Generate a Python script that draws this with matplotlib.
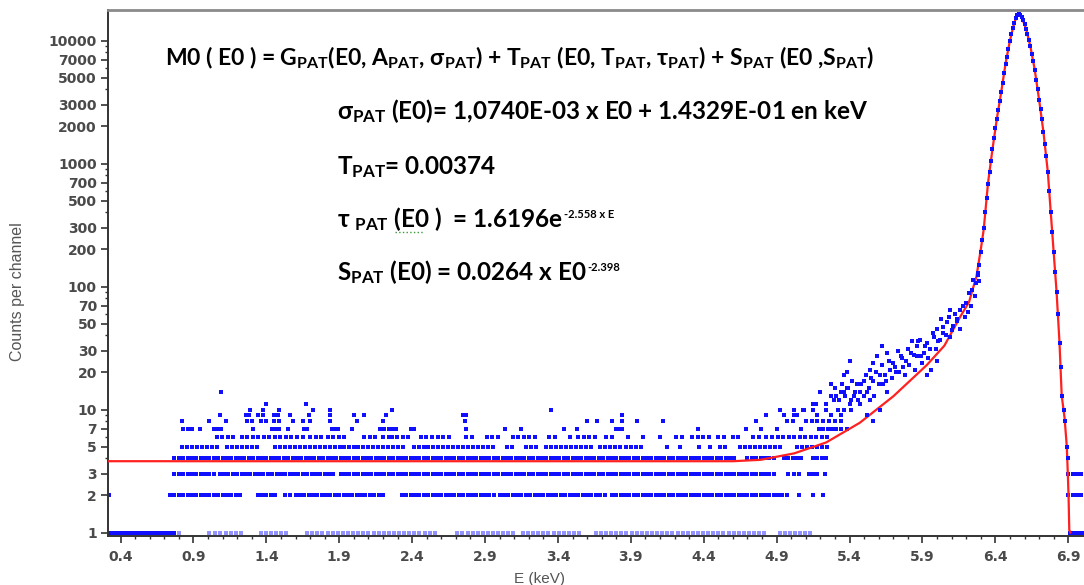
import numpy as np
import matplotlib
matplotlib.use("Agg")
import matplotlib.pyplot as plt
from matplotlib.lines import Line2D

# ---- data (energy in keV, counts per channel) ----
# background channels drawn as rows: energy segments where channels sit on each count level
level1_dense = [(0.32, 0.76), (6.91, 7.00)]
level1_sparse = [(0.80, 0.80), (1.01, 1.01), (1.05, 1.24), (1.36, 1.54), (1.68, 2.55),
                 (2.71, 3.09), (3.16, 3.55), (3.66, 4.83), (4.92, 5.13)]
level2 = [(0.32, 0.32), (0.74, 1.23), (1.34, 1.46), (1.53, 1.56), (1.60, 2.20), (2.33, 2.95),
          (3.00, 3.73), (3.77, 4.98), (5.05, 5.05), (5.15, 5.15), (5.22, 5.22), (6.90, 7.00)]
level3 = [(0.77, 1.04), (1.08, 1.49), (1.53, 1.87), (1.91, 2.20), (2.24, 4.88), (4.98, 4.98),
          (5.02, 5.05), (5.12, 5.18), (5.23, 5.23), (6.90, 7.00)]
level4 = [(0.77, 4.22), (4.25, 4.60), (4.70, 4.88), (4.95, 5.08), (5.15, 5.24)]
level5 = [(0.82, 0.93), (0.96, 1.05), (1.13, 1.35), (1.46, 1.90), (1.93, 2.10), (2.13, 2.35),
          (2.41, 2.55), (2.58, 2.96), (3.05, 3.09), (3.18, 3.25), (3.32, 3.62), (3.69, 3.83),
          (3.87, 3.96), (4.15, 4.15), (4.24, 4.24), (4.37, 4.37), (4.44, 4.44), (4.51, 4.56),
          (4.65, 4.92), (5.04, 5.24)]
level6 = [(1.06, 1.17), (1.23, 1.63), (1.70, 1.77), (1.82, 1.95), (2.07, 2.16), (2.20, 2.22),
          (2.26, 2.39), (2.46, 2.66), (2.77, 2.77), (2.81, 2.81), (2.91, 3.00), (3.09, 3.23),
          (3.34, 3.37), (3.48, 3.48), (3.54, 3.64), (3.73, 3.78), (3.88, 3.88), (3.98, 3.98),
          (4.10, 4.10), (4.21, 4.26), (4.32, 4.44), (4.50, 4.52), (4.60, 4.65), (4.74, 4.78),
          (4.83, 5.26)]

# isolated channels at higher count levels
level7_e = [0.83, 0.86, 0.89, 0.945, 1.04, 1.06, 1.09, 1.31, 1.44, 1.46, 1.49, 1.55, 1.66, 1.68,
            1.85, 1.87, 1.89, 1.99, 2.18, 2.21, 2.24, 2.27, 2.29, 2.39, 2.41, 2.77, 3.04, 3.15,
            3.44, 3.53, 3.80, 3.82, 3.84, 4.36, 4.69, 4.79, 4.90, 5.07, 5.19, 5.22, 5.25, 5.28,
            5.31, 5.34, 5.38]
level8_e = [0.82, 1.01, 1.12, 1.27, 1.30, 1.36, 1.40, 1.45, 1.49, 1.58, 1.65, 1.70, 1.84, 2.02,
            2.20, 2.76, 3.60, 3.67, 3.77, 3.84, 3.94, 4.12, 4.76, 4.97, 5.01, 5.10, 5.14, 5.18,
            5.22, 5.26, 5.30, 5.34]
level9_e = [1.08, 1.26, 1.28, 1.34, 1.38, 1.45, 1.48, 1.56, 1.69, 1.84, 2.00, 2.07, 2.22, 2.75,
            2.77, 3.84, 4.95, 5.04, 5.18, 5.27, 5.34]
level10_e = [1.29, 1.38, 1.49, 1.72, 1.84, 2.26, 3.35, 4.92, 5.02, 5.09, 5.15, 5.24, 5.32, 5.36, 5.41]
level11_e = [1.40, 1.67, 5.17]
level14_e = [1.09]

# low-energy tail cloud below the peak
tail_e = [6.25, 6.27, 6.24, 6.26, 6.20, 6.23, 6.16, 6.19, 6.09, 6.14, 6.11, 6.16, 6.07, 6.03,
          6.04, 6.09, 6.00, 5.98, 6.02, 5.93, 5.95, 5.88, 5.86, 5.83, 5.91, 6.00, 5.96, 5.93,
          5.90, 5.86, 5.82, 5.79, 5.77, 5.75, 5.70, 5.68, 5.72, 5.66, 5.62, 5.59, 5.56, 5.54,
          5.61, 5.63, 5.66, 5.56, 5.50, 5.45, 5.47, 5.52, 5.54, 5.43, 5.38, 5.36, 5.34, 5.31,
          5.29, 5.40, 5.47, 5.52, 5.56, 5.61, 5.27, 5.20, 5.40, 5.38, 5.36, 5.24, 5.15, 5.08,
          5.02, 4.92, 4.83,
          5.27, 5.30, 5.33, 5.35, 5.37, 5.39, 5.41, 5.42, 5.44, 5.46, 5.48, 5.50, 5.51, 5.53,
          5.55, 5.57, 5.58, 5.60, 5.62, 5.64, 5.65, 5.67, 5.69, 5.71, 5.73, 5.74, 5.76, 5.78,
          5.80, 5.81, 5.84, 5.85, 5.87, 5.89, 5.92, 5.94, 5.97, 5.99, 6.01, 6.04, 6.06, 6.08,
          6.10, 6.12, 6.14, 6.18, 6.21, 6.22, 6.28, 6.29]
tail_counts = [114, 107, 94, 83, 74, 69, 65, 57, 65, 54, 48, 45, 51, 54,
               42, 39, 45, 39, 37, 35, 31, 37, 33, 36, 29, 25, 21, 19,
               24, 27, 29, 25, 22, 27, 24, 21, 20, 29, 33, 27, 24, 21,
               19, 16, 14, 17, 17, 16, 14, 14, 12, 13, 15, 14, 14, 13,
               12, 11, 11, 9, 8, 10, 16, 14, 25, 20, 19, 11, 11, 10,
               9, 10, 9,
               13, 15, 12, 16, 13, 15, 12, 17, 14, 12, 16, 13, 19, 15,
               18, 13, 20, 16, 23, 19, 17, 25, 18, 22, 30, 20, 26, 19,
               31, 23, 28, 21, 36, 27, 33, 26, 42, 31, 36, 47, 40, 56,
               44, 60, 52, 70, 62, 88, 128, 110]

# photopeak channels
peak_e = [6.28, 6.29, 6.30, 6.31, 6.32, 6.33, 6.34, 6.35, 6.36, 6.37, 6.38, 6.39, 6.40, 6.41,
          6.42, 6.43, 6.44, 6.45, 6.46, 6.47, 6.48, 6.49, 6.50, 6.51, 6.52, 6.53, 6.54, 6.55,
          6.56, 6.57, 6.58, 6.59, 6.60, 6.61, 6.62, 6.63, 6.64, 6.65, 6.66, 6.67, 6.68, 6.69,
          6.70, 6.71, 6.72, 6.73, 6.74, 6.75, 6.76, 6.77, 6.78, 6.79, 6.80, 6.81, 6.82, 6.83,
          6.84, 6.85, 6.86, 6.87, 6.88, 6.89, 6.895]
peak_counts = [125, 150, 190, 240, 300, 400, 520, 680, 850, 1050, 1300, 1600, 1950, 2300,
               2700, 3200, 3800, 4500, 5400, 6400, 7400, 8600, 10000, 11300, 12600, 14000, 15200, 16200,
               16400, 16000, 15400, 14600, 13500, 12500, 11300, 10100, 9000, 7800, 6800, 5800, 4800, 4000,
               3300, 2800, 2300, 1800, 1450, 1150, 850, 600, 400, 280, 190, 130, 90, 60,
               35, 22, 13, 10, 8, 5, 4]

# fitted model M0(E0)
fit_e = [0.30, 4.60, 4.79, 5.02, 5.24, 5.47, 5.70, 5.93, 6.05, 6.16, 6.22, 6.25, 6.27, 6.30,
         6.32, 6.35, 6.38, 6.41, 6.44, 6.47, 6.50, 6.53, 6.556, 6.58, 6.61, 6.64, 6.67, 6.70,
         6.73, 6.76, 6.78, 6.80, 6.82, 6.84, 6.855, 6.875, 6.89, 6.897, 6.902, 6.907, 6.915]
fit_counts = [3.8, 3.8, 3.9, 4.4, 5.4, 7.8, 12.8, 23, 33, 57, 75, 100, 120, 200,
              290, 700, 1300, 2300, 3800, 6500, 10000, 14000, 16500, 15500, 12500, 9000, 5800, 3300,
              1800, 850, 400, 190, 90, 35, 13, 8.5, 5, 3, 2, 1.05, 1.0]

x_ticks = [0.4, 0.9, 1.4, 1.9, 2.4, 2.9, 3.4, 3.9, 4.4, 4.9, 5.4, 5.9, 6.4, 6.9]
y_ticks = [1, 2, 3, 5, 7, 10, 20, 30, 50, 70, 100, 200, 300, 500, 700,
           1000, 2000, 3000, 5000, 7000, 10000]


def expand(segments, step):
    pts = []
    for a, b in segments:
        pts.extend(np.arange(a, b + step / 2, step))
    return np.array(pts)


plt.rcParams['mathtext.fontset'] = 'custom'
plt.rcParams['mathtext.rm'] = 'Lato:bold'
plt.rcParams['mathtext.bf'] = 'Lato:bold'
plt.rcParams['mathtext.it'] = 'Lato:bold'
plt.rcParams['mathtext.default'] = 'bf'
plt.rcParams['mathtext.fallback'] = 'stixsans'

W, H = 1084, 585
fig = plt.figure(figsize=(W / 100, H / 100), dpi=100)
ax = fig.add_axes([108 / W, 49 / H, 1 - 108 / W, (536 - 10) / H])

blue = '#1010ff'
mk = dict(marker='s', ls='none', ms=2.4, mew=0, color=blue)

rows = [(1, level1_dense, 0.012, 1.0), (1, level1_sparse, 0.035, 0.45),
        (2, level2, 0.03, 1.0), (3, level3, 0.03, 1.0), (4, level4, 0.03, 1.0),
        (5, level5, 0.034, 1.0), (6, level6, 0.038, 1.0)]
for lvl, segs, step, a in rows:
    xs = expand(segs, step)
    ax.plot(xs, np.full(len(xs), lvl), alpha=a, **mk)

for lvl, es in [(7, level7_e), (8, level8_e), (9, level9_e), (10, level10_e),
                (11, level11_e), (14, level14_e)]:
    ax.plot(es, [lvl] * len(es), **mk)

ax.plot(fit_e, fit_counts, color='#ff2020', lw=1.6, zorder=3)
ax.plot(tail_e, tail_counts, zorder=4, **mk)
ax.plot(peak_e, peak_counts, zorder=4, marker='s', ls='none', ms=2.8, mew=0, color=blue)

ax.set_yscale('log')
ax.set_xlim(0.314, 7.008)
ax.set_ylim(0.937, 17700)

ax.set_xticks(x_ticks)
ax.set_xticklabels([f'{v:.1f}' for v in x_ticks])
ax.set_xticks(np.arange(0.4, 7.0, 0.1), minor=True)
ax.set_yticks(y_ticks)
ax.set_yticklabels([str(v) for v in y_ticks])
minor_y = [m * 10 ** d for d in range(0, 5) for m in (4, 6, 8, 9)]
ax.set_yticks([v for v in minor_y if v < 17700], minor=True)
ax.yaxis.set_minor_formatter(plt.NullFormatter())

for lab in ax.get_xticklabels() + ax.get_yticklabels():
    lab.set_fontfamily('DejaVu Sans')
    lab.set_fontweight('bold')
    lab.set_fontsize(10)
    lab.set_color('#4a4a4a')
ax.tick_params(which='major', length=5, width=1.2, color='#333333', pad=3)
ax.tick_params(which='minor', length=2.5, width=1.0, color='#333333')
ax.tick_params(axis='x', which='major', pad=5)

for s in ['left', 'bottom']:
    ax.spines[s].set_color('#333333')
    ax.spines[s].set_linewidth(1.4)
ax.spines['top'].set_color('#8a8a8a')
ax.spines['top'].set_linewidth(2.0)
ax.spines['right'].set_visible(False)

fig.text(18 / W, 1 - 292 / H, 'Counts per channel', rotation=90, ha='center', va='center',
         fontsize=11.5, color='#555555', family='Liberation Sans')
fig.text(540 / W, 1 - 579 / H, 'E (keV)', ha='center', va='center',
         fontsize=11, color='#555555', family='Liberation Sans')

# ---- model annotation ----
txt = dict(family=['Lato', 'DejaVu Sans'], weight='bold', va='baseline', color='black')
renderer = fig.canvas.get_renderer()


def line(x_px, base_px, s, size, sup=None):
    t = fig.text(x_px / W, 1 - base_px / H, s, fontsize=size, **txt)
    if sup:
        bb = t.get_window_extent(renderer)
        fig.text((bb.x1 + 1) / W, 1 - (base_px - 9) / H, sup, fontsize=8, **txt)


line(165, 65, r'M0 ( E0 ) = G$_{PAT}$(E0, A$_{PAT}$, σ$_{PAT}$) + T$_{PAT}$ (E0, T$_{PAT}$, τ$_{PAT}$) + S$_{PAT}$ (E0 ,S$_{PAT}$)', 16.5)
line(337, 119, r'σ$_{PAT}$ (E0)= 1,0740E-03 x E0 + 1.4329E-01 en keV', 17.5)
line(337, 174, r'T$_{PAT}$= 0.00374', 17.5)
line(337, 227, r'τ $_{PAT}$ (E0 )  = 1.6196e', 17.5, sup='-2.558 x E')
line(337, 280, r'S$_{PAT}$ (E0) = 0.0264 x E0', 17.5, sup='-2.398')
fig.add_artist(Line2D([395 / W, 423 / W], [1 - 232 / H, 1 - 232 / H], color='#3a9a3a',
                      lw=1.0, ls=':', transform=fig.transFigure))

fig.savefig('out.png', dpi=100)
